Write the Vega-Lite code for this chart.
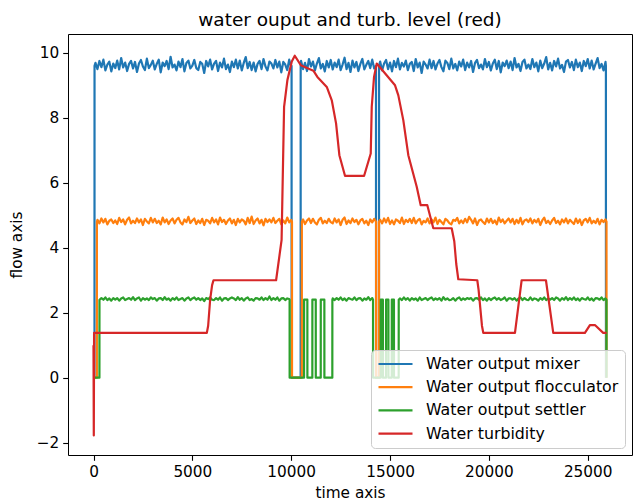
{
"$schema":"https://vega.github.io/schema/vega-lite/v6.json",
"width":564,"height":421,
"autosize":{"type":"none"},
"padding":{"left":68,"top":34,"right":2,"bottom":48},
"background":"white",
"title":{"text":"water ouput and turb. level (red)","anchor":"middle","fontSize":18.5,"fontWeight":"normal","color":"black","offset":5,"font":"DejaVu Sans"},
"config":{
"font":"DejaVu Sans",
"view":{"stroke":"black","strokeWidth":1},
"axis":{"grid":false,"domain":false,"tickColor":"black","tickSize":5.3,"tickWidth":1.1,"labelColor":"black","labelFontSize":15.3,"labelFont":"DejaVu Sans","titleFont":"DejaVu Sans","titleFontSize":15.3,"titleFontWeight":"normal","titleColor":"black","labelPadding":4,"labelFlush":false,"labelOverlap":false},
"legend":{"orient":"bottom-right","offset":7,"fillColor":"rgba(255,255,255,0.8)","strokeColor":"#cccccc","cornerRadius":4,"padding":6,"symbolType":"stroke","symbolSize":1156,"symbolStrokeWidth":2.2,"clipHeight":16,"rowPadding":7.2,"labelFontSize":15.8,"labelColor":"black","labelFont":"DejaVu Sans","labelOffset":12,"labelLimit":400}
},
"data":{"values":[
{"t":0,"m":0,"f":0,"s":0,"r":1.0},
{"t":15,"r":-1.78},{"t":30,"r":1.38},
{"t":50,"m":0},{"t":52,"m":9.6},
{"t":170,"f":0},{"t":172,"f":4.8},
{"t":300,"s":0},{"t":302,"s":2.4},
{"t":10020,"m":9.6},{"t":10022,"m":0},{"t":10478,"m":0},{"t":10480,"m":9.6},
{"t":14290,"m":9.6},{"t":14292,"m":0},{"t":14443,"m":0},{"t":14445,"m":9.6},
{"t":25920,"m":9.6},{"t":25922,"m":0},
{"t":10040,"f":4.8},{"t":10042,"f":0},{"t":10538,"f":0},{"t":10540,"f":4.8},
{"t":14295,"f":4.8},{"t":14297,"f":0},{"t":14440,"f":0},{"t":14442,"f":4.8},
{"t":25950,"f":4.8,"s":2.4},{"t":25952,"f":0,"s":0},
{"t":9920,"s":2.4},{"t":9922,"s":0},{"t":10650,"s":0},{"t":10652,"s":2.4},{"t":10818,"s":2.4},{"t":10820,"s":0},{"t":11070,"s":0},{"t":11072,"s":2.4},{"t":11243,"s":2.4},{"t":11245,"s":0},{"t":11495,"s":0},{"t":11497,"s":2.4},{"t":11678,"s":2.4},{"t":11680,"s":0},{"t":12081,"s":0},{"t":12083,"s":2.4},
{"t":14140,"s":2.4},{"t":14142,"s":0},{"t":14528,"s":0},{"t":14530,"s":2.4},{"t":14638,"s":2.4},{"t":14640,"s":0},{"t":14798,"s":0},{"t":14800,"s":2.4},{"t":14918,"s":2.4},{"t":14920,"s":0},{"t":15088,"s":0},{"t":15090,"s":2.4},{"t":15198,"s":2.4},{"t":15200,"s":0},{"t":15438,"s":0},{"t":15440,"s":2.4},
{"t":5733,"r":1.38},{"t":5800,"r":1.6},{"t":5900,"r":2.4},{"t":6000,"r":2.85},{"t":6070,"r":3.0},{"t":9237,"r":3.0},{"t":9515,"r":4.24},{"t":9565,"r":5.9},{"t":9641,"r":8.34},{"t":9808,"r":9.16},{"t":10030,"r":9.73},{"t":10182,"r":9.91},{"t":10485,"r":9.62},{"t":11122,"r":9.45},{"t":11325,"r":9.26},{"t":11800,"r":8.95},{"t":12053,"r":8.54},{"t":12270,"r":7.83},{"t":12437,"r":6.85},{"t":12725,"r":6.21},{"t":13686,"r":6.21},{"t":14024,"r":6.9},{"t":14075,"r":8.34},{"t":14191,"r":9.26},{"t":14328,"r":9.67},{"t":15253,"r":9.0},{"t":15420,"r":8.69},{"t":15673,"r":7.92},{"t":15925,"r":6.85},{"t":16350,"r":5.88},{"t":16552,"r":5.31},{"t":16886,"r":5.31},{"t":17189,"r":4.6},{"t":18119,"r":4.6},{"t":18250,"r":4.2},{"t":18350,"r":3.5},{"t":18453,"r":3.03},{"t":19414,"r":3.0},{"t":19480,"r":2.7},{"t":19650,"r":1.6},{"t":19717,"r":1.38},{"t":21320,"r":1.38},{"t":21658,"r":3.0},{"t":22887,"r":3.0},{"t":23256,"r":1.38},{"t":24858,"r":1.38},{"t":25111,"r":1.62},{"t":25364,"r":1.62},{"t":25784,"r":1.38},{"t":25956,"r":1.38},
{"t":100,"m":9.69},
{"t":200,"m":9.50,"f":4.86},
{"t":300,"m":9.75,"f":4.75},
{"t":400,"m":9.56,"f":4.90,"s":2.45},
{"t":500,"m":9.79,"f":4.78,"s":2.40},
{"t":600,"m":9.46,"f":4.89,"s":2.47},
{"t":700,"m":9.64,"f":4.72,"s":2.39},
{"t":800,"m":9.73,"f":4.83,"s":2.44},
{"t":900,"m":9.43,"f":4.87,"s":2.37},
{"t":1000,"m":9.67,"f":4.76,"s":2.45},
{"t":1100,"m":9.53,"f":4.84,"s":2.40},
{"t":1200,"m":9.76,"f":4.73,"s":2.45},
{"t":1300,"m":9.49,"f":4.92,"s":2.37},
{"t":1400,"m":9.84,"f":4.79,"s":2.44},
{"t":1500,"m":9.55,"f":4.87,"s":2.47},
{"t":1600,"m":9.70,"f":4.72,"s":2.39},
{"t":1700,"m":9.44,"f":4.86,"s":2.42},
{"t":1800,"m":9.66,"f":4.93,"s":2.45},
{"t":1900,"m":9.75,"f":4.75,"s":2.40},
{"t":2000,"m":9.52,"f":4.83,"s":2.48},
{"t":2100,"m":9.72,"f":4.76,"s":2.39},
{"t":2200,"m":9.41,"f":4.90,"s":2.44},
{"t":2300,"m":9.67,"f":4.78,"s":2.47},
{"t":2400,"m":9.78,"f":4.87,"s":2.37},
{"t":2500,"m":9.58,"f":4.70,"s":2.45},
{"t":2600,"m":9.47,"f":4.89,"s":2.40},
{"t":2700,"m":9.82,"f":4.81,"s":2.44},
{"t":2800,"m":9.53,"f":4.75,"s":2.39},
{"t":2900,"m":9.63,"f":4.92,"s":2.47},
{"t":3000,"m":9.76,"f":4.78,"s":2.42},
{"t":3100,"m":9.49,"f":4.89,"s":2.45},
{"t":3200,"m":9.66,"f":4.76,"s":2.37},
{"t":3300,"m":9.79,"f":4.83,"s":2.44},
{"t":3400,"m":9.40,"f":4.72,"s":2.45},
{"t":3500,"m":9.70,"f":4.93,"s":2.39},
{"t":3600,"m":9.59,"f":4.78,"s":2.48},
{"t":3700,"m":9.75,"f":4.87,"s":2.40},
{"t":3800,"m":9.50,"f":4.73,"s":2.44},
{"t":3900,"m":9.88,"f":4.84,"s":2.37},
{"t":4000,"m":9.55,"f":4.90,"s":2.45},
{"t":4100,"m":9.64,"f":4.75,"s":2.40},
{"t":4200,"m":9.46,"f":4.86,"s":2.47},
{"t":4300,"m":9.73,"f":4.92,"s":2.39},
{"t":4400,"m":9.56,"f":4.78,"s":2.42},
{"t":4500,"m":9.81,"f":4.72,"s":2.45},
{"t":4600,"m":9.43,"f":4.87,"s":2.37},
{"t":4700,"m":9.69,"f":4.79,"s":2.44},
{"t":4800,"m":9.76,"f":4.95,"s":2.47},
{"t":4900,"m":9.52,"f":4.76,"s":2.39},
{"t":5000,"m":9.61,"f":4.84,"s":2.44},
{"t":5100,"m":9.78,"f":4.90,"s":2.47},
{"t":5200,"m":9.53,"f":4.73,"s":2.40},
{"t":5300,"m":9.47,"f":4.84,"s":2.45},
{"t":5400,"m":9.72,"f":4.76,"s":2.39},
{"t":5500,"m":9.66,"f":4.89,"s":2.44},
{"t":5600,"m":9.38,"f":4.70,"s":2.36},
{"t":5700,"m":9.75,"f":4.86,"s":2.45},
{"t":5800,"m":9.58,"f":4.83,"s":2.42},
{"t":5900,"m":9.79,"f":4.75,"s":2.47},
{"t":6000,"m":9.49,"f":4.92,"s":2.40},
{"t":6100,"m":9.67,"f":4.78,"s":2.39},
{"t":6200,"m":9.75,"f":4.87,"s":2.45},
{"t":6300,"m":9.44,"f":4.72,"s":2.40},
{"t":6400,"m":9.70,"f":4.93,"s":2.47},
{"t":6500,"m":9.55,"f":4.79,"s":2.37},
{"t":6600,"m":9.82,"f":4.86,"s":2.44},
{"t":6700,"m":9.50,"f":4.73,"s":2.45},
{"t":6800,"m":9.64,"f":4.84,"s":2.39},
{"t":6900,"m":9.41,"f":4.90,"s":2.44},
{"t":7000,"m":9.73,"f":4.75,"s":2.47},
{"t":7100,"m":9.56,"f":4.86,"s":2.44},
{"t":7200,"m":9.79,"f":4.70,"s":2.39},
{"t":7300,"m":9.52,"f":4.89,"s":2.48},
{"t":7400,"m":9.76,"f":4.78,"s":2.40},
{"t":7500,"m":9.46,"f":4.87,"s":2.45},
{"t":7600,"m":9.69,"f":4.83,"s":2.37},
{"t":7700,"m":9.87,"f":4.72,"s":2.44},
{"t":7800,"m":9.53,"f":4.92,"s":2.47},
{"t":7900,"m":9.72,"f":4.76,"s":2.39},
{"t":8000,"m":9.47,"f":4.96,"s":2.42},
{"t":8100,"m":9.70,"f":4.73,"s":2.37},
{"t":8200,"m":9.43,"f":4.84,"s":2.45},
{"t":8300,"m":9.66,"f":4.90,"s":2.44},
{"t":8400,"m":9.75,"f":4.75,"s":2.40},
{"t":8500,"m":9.50,"f":4.86,"s":2.47},
{"t":8600,"m":9.81,"f":4.69,"s":2.39},
{"t":8700,"m":9.58,"f":4.89,"s":2.45},
{"t":8800,"m":9.46,"f":4.79,"s":2.40},
{"t":8900,"m":9.73,"f":4.87,"s":2.50},
{"t":9000,"m":9.67,"f":4.78,"s":2.39},
{"t":9100,"m":9.52,"f":4.92,"s":2.45},
{"t":9200,"m":9.78,"f":4.76,"s":2.40},
{"t":9300,"m":9.55,"f":4.83,"s":2.47},
{"t":9400,"m":9.73,"f":4.89,"s":2.37},
{"t":9500,"m":9.40,"f":4.72,"s":2.44},
{"t":9600,"m":9.72,"f":4.84,"s":2.45},
{"t":9700,"m":9.64,"f":4.75,"s":2.39},
{"t":9800,"m":9.47,"f":4.93,"s":2.44},
{"t":9900,"m":9.79,"f":4.78,"s":2.42},
{"t":10000,"m":9.56,"f":4.86},
{"t":10500,"m":9.75},
{"t":10600,"m":9.50,"f":4.87},
{"t":10700,"m":9.69,"f":4.73},
{"t":10800,"m":9.44,"f":4.84},
{"t":10900,"m":9.81,"f":4.90},
{"t":11000,"m":9.58,"f":4.76},
{"t":11100,"m":9.73,"f":4.89},
{"t":11200,"m":9.46,"f":4.78},
{"t":11300,"m":9.67,"f":4.72},
{"t":11400,"m":9.84,"f":4.86},
{"t":11500,"m":9.52,"f":4.92},
{"t":11600,"m":9.66,"f":4.75},
{"t":11700,"m":9.43,"f":4.83},
{"t":11800,"m":9.75,"f":4.76},
{"t":11900,"m":9.55,"f":4.89},
{"t":12000,"m":9.78,"f":4.79},
{"t":12100,"m":9.49,"f":4.75,"s":2.44},
{"t":12200,"m":9.70,"f":4.90,"s":2.39},
{"t":12300,"m":9.56,"f":4.78,"s":2.45},
{"t":12400,"m":9.79,"f":4.87,"s":2.40},
{"t":12500,"m":9.47,"f":4.70,"s":2.47},
{"t":12600,"m":9.64,"f":4.86,"s":2.39},
{"t":12700,"m":9.85,"f":4.93,"s":2.44},
{"t":12800,"m":9.50,"f":4.73,"s":2.37},
{"t":12900,"m":9.69,"f":4.84,"s":2.45},
{"t":13000,"m":9.41,"f":4.76,"s":2.42},
{"t":13100,"m":9.76,"f":4.90,"s":2.40},
{"t":13200,"m":9.55,"f":4.79,"s":2.47},
{"t":13300,"m":9.72,"f":4.86,"s":2.39},
{"t":13400,"m":9.44,"f":4.72,"s":2.44},
{"t":13500,"m":9.66,"f":4.84,"s":2.45},
{"t":13600,"m":9.81,"f":4.89,"s":2.37},
{"t":13700,"m":9.49,"f":4.75,"s":2.44},
{"t":13800,"m":9.63,"f":4.83,"s":2.40},
{"t":13900,"m":9.75,"f":4.70,"s":2.48},
{"t":14000,"m":9.53,"f":4.87,"s":2.39},
{"t":14100,"m":9.79,"f":4.78,"s":2.45},
{"t":14200,"m":9.52,"f":4.89},
{"t":14500,"m":9.73,"f":4.86},
{"t":14600,"m":9.46,"f":4.75},
{"t":14700,"m":9.67,"f":4.90},
{"t":14800,"m":9.78,"f":4.78},
{"t":14900,"m":9.50,"f":4.92},
{"t":15000,"m":9.70,"f":4.73},
{"t":15100,"m":9.43,"f":4.84},
{"t":15200,"m":9.75,"f":4.72},
{"t":15300,"m":9.56,"f":4.87},
{"t":15400,"m":9.82,"f":4.83},
{"t":15500,"m":9.49,"f":4.76,"s":2.44},
{"t":15600,"m":9.69,"f":4.93,"s":2.39},
{"t":15700,"m":9.58,"f":4.73,"s":2.47},
{"t":15800,"m":9.76,"f":4.86,"s":2.40},
{"t":15900,"m":9.47,"f":4.79,"s":2.45},
{"t":16000,"m":9.66,"f":4.89,"s":2.37},
{"t":16100,"m":9.72,"f":4.76,"s":2.45},
{"t":16200,"m":9.44,"f":4.92,"s":2.40},
{"t":16300,"m":9.81,"f":4.75,"s":2.44},
{"t":16400,"m":9.55,"f":4.84,"s":2.37},
{"t":16500,"m":9.70,"f":4.89,"s":2.47},
{"t":16600,"m":9.38,"f":4.72,"s":2.39},
{"t":16700,"m":9.73,"f":4.83,"s":2.42},
{"t":16800,"m":9.64,"f":4.78,"s":2.45},
{"t":16900,"m":9.52,"f":4.90,"s":2.39},
{"t":17000,"m":9.79,"f":4.75,"s":2.44},
{"t":17100,"m":9.53,"f":4.87,"s":2.47},
{"t":17200,"m":9.75,"f":4.78,"s":2.39},
{"t":17300,"m":9.49,"f":4.93,"s":2.44},
{"t":17400,"m":9.67,"f":4.73,"s":2.40},
{"t":17500,"m":9.78,"f":4.86,"s":2.45},
{"t":17600,"m":9.56,"f":4.79,"s":2.37},
{"t":17700,"m":9.43,"f":4.72,"s":2.48},
{"t":17800,"m":9.76,"f":4.89,"s":2.40},
{"t":17900,"m":9.69,"f":4.84,"s":2.44},
{"t":18000,"m":9.50,"f":4.76,"s":2.39},
{"t":18100,"m":9.82,"f":4.72,"s":2.40},
{"t":18200,"m":9.52,"f":4.86,"s":2.45},
{"t":18300,"m":9.66,"f":4.83,"s":2.37},
{"t":18400,"m":9.46,"f":4.92,"s":2.44},
{"t":18500,"m":9.73,"f":4.75,"s":2.47},
{"t":18600,"m":9.58,"f":4.84,"s":2.39},
{"t":18700,"m":9.79,"f":4.76,"s":2.44},
{"t":18800,"m":9.47,"f":4.89,"s":2.40},
{"t":18900,"m":9.70,"f":4.78,"s":2.45},
{"t":19000,"m":9.55,"f":4.95,"s":2.42},
{"t":19100,"m":9.75,"f":4.86,"s":2.45},
{"t":19200,"m":9.41,"f":4.75,"s":2.37},
{"t":19300,"m":9.69,"f":4.90,"s":2.44},
{"t":19400,"m":9.78,"f":4.70,"s":2.45},
{"t":19500,"m":9.53,"f":4.84,"s":2.40},
{"t":19600,"m":9.64,"f":4.87,"s":2.47},
{"t":19700,"m":9.49,"f":4.79,"s":2.39},
{"t":19800,"m":9.81,"f":4.73,"s":2.44},
{"t":19900,"m":9.56,"f":4.90,"s":2.37},
{"t":20000,"m":9.72,"f":4.78,"s":2.45},
{"t":20100,"m":9.46,"f":4.89,"s":2.39},
{"t":20200,"m":9.67,"f":4.76,"s":2.44},
{"t":20300,"m":9.79,"f":4.84,"s":2.47},
{"t":20400,"m":9.50,"f":4.72,"s":2.40},
{"t":20500,"m":9.75,"f":4.93,"s":2.45},
{"t":20600,"m":9.40,"f":4.79,"s":2.39},
{"t":20700,"m":9.70,"f":4.87,"s":2.42},
{"t":20800,"m":9.59,"f":4.75,"s":2.47},
{"t":20900,"m":9.76,"f":4.83,"s":2.37},
{"t":21000,"m":9.53,"f":4.90,"s":2.44},
{"t":21100,"m":9.73,"f":4.78,"s":2.44},
{"t":21200,"m":9.47,"f":4.89,"s":2.40},
{"t":21300,"m":9.84,"f":4.73,"s":2.45},
{"t":21400,"m":9.55,"f":4.86,"s":2.37},
{"t":21500,"m":9.66,"f":4.76,"s":2.44},
{"t":21600,"m":9.44,"f":4.92,"s":2.47},
{"t":21700,"m":9.72,"f":4.72,"s":2.39},
{"t":21800,"m":9.79,"f":4.84,"s":2.45},
{"t":21900,"m":9.52,"f":4.87,"s":2.40},
{"t":22000,"m":9.64,"f":4.79,"s":2.39},
{"t":22100,"m":9.50,"f":4.90,"s":2.47},
{"t":22200,"m":9.81,"f":4.75,"s":2.39},
{"t":22300,"m":9.56,"f":4.86,"s":2.44},
{"t":22400,"m":9.70,"f":4.78,"s":2.42},
{"t":22500,"m":9.43,"f":4.89,"s":2.37},
{"t":22600,"m":9.76,"f":4.70,"s":2.45},
{"t":22700,"m":9.53,"f":4.84,"s":2.40},
{"t":22800,"m":9.67,"f":4.93,"s":2.47},
{"t":22900,"m":9.87,"f":4.76,"s":2.39},
{"t":23000,"m":9.49,"f":4.83,"s":2.44},
{"t":23100,"m":9.69,"f":4.73,"s":2.40},
{"t":23200,"m":9.46,"f":4.84,"s":2.45},
{"t":23300,"m":9.75,"f":4.92,"s":2.39},
{"t":23400,"m":9.58,"f":4.76,"s":2.47},
{"t":23500,"m":9.82,"f":4.83,"s":2.44},
{"t":23600,"m":9.52,"f":4.72,"s":2.37},
{"t":23700,"m":9.63,"f":4.87,"s":2.45},
{"t":23800,"m":9.41,"f":4.78,"s":2.40},
{"t":23900,"m":9.73,"f":4.90,"s":2.48},
{"t":24000,"m":9.78,"f":4.75,"s":2.39},
{"t":24100,"m":9.55,"f":4.86,"s":2.45},
{"t":24200,"m":9.72,"f":4.79,"s":2.40},
{"t":24300,"m":9.47,"f":4.73,"s":2.47},
{"t":24400,"m":9.79,"f":4.90,"s":2.39},
{"t":24500,"m":9.56,"f":4.76,"s":2.44},
{"t":24600,"m":9.70,"f":4.87,"s":2.37},
{"t":24700,"m":9.44,"f":4.70,"s":2.45},
{"t":24800,"m":9.75,"f":4.84,"s":2.42},
{"t":24900,"m":9.59,"f":4.89,"s":2.40},
{"t":25000,"m":9.81,"f":4.78,"s":2.47},
{"t":25100,"m":9.52,"f":4.92,"s":2.39},
{"t":25200,"m":9.76,"f":4.75,"s":2.44},
{"t":25300,"m":9.49,"f":4.83,"s":2.37},
{"t":25400,"m":9.67,"f":4.76,"s":2.45},
{"t":25500,"m":9.84,"f":4.89,"s":2.44},
{"t":25600,"m":9.53,"f":4.72,"s":2.40},
{"t":25700,"m":9.66,"f":4.86,"s":2.47},
{"t":25800,"m":9.46,"f":4.79,"s":2.39},
{"t":25900,"m":9.72,"f":4.87,"s":2.44}
]},
"encoding":{
"x":{"field":"t","type":"quantitative","scale":{"domain":[-1290,27240],"nice":false,"zero":false},"axis":{"values":[0,5000,10000,15000,20000,25000],"format":"d","title":"time axis","titlePadding":6}}
},
"layer":[
{"transform":[{"filter":"isValid(datum.m)"}],"mark":{"type":"line","strokeWidth":2.2,"strokeJoin":"round","clip":true},
"encoding":{"y":{"field":"m","type":"quantitative","scale":{"domain":[-2.38,10.58],"nice":false,"zero":false},"axis":{"values":[-2,0,2,4,6,8,10],"format":"d","title":"flow axis","titlePadding":12}},
"color":{"datum":"Water output mixer","type":"nominal","scale":{"domain":["Water output mixer","Water output flocculator","Water output settler","Water turbidity"],"range":["#1f77b4","#ff7f0e","#2ca02c","#d62728"]},"legend":{"title":null}}}},
{"transform":[{"filter":"isValid(datum.f)"}],"mark":{"type":"line","strokeWidth":2.2,"strokeJoin":"round","clip":true},
"encoding":{"y":{"field":"f","type":"quantitative","title":"flow axis"},"color":{"datum":"Water output flocculator","type":"nominal"}}},
{"transform":[{"filter":"isValid(datum.s)"}],"mark":{"type":"line","strokeWidth":2.2,"strokeJoin":"round","clip":true},
"encoding":{"y":{"field":"s","type":"quantitative","title":"flow axis"},"color":{"datum":"Water output settler","type":"nominal"}}},
{"transform":[{"filter":"isValid(datum.r)"}],"mark":{"type":"line","strokeWidth":2.2,"strokeJoin":"round","clip":true},
"encoding":{"y":{"field":"r","type":"quantitative","title":"flow axis"},"color":{"datum":"Water turbidity","type":"nominal"}}}
]
}
